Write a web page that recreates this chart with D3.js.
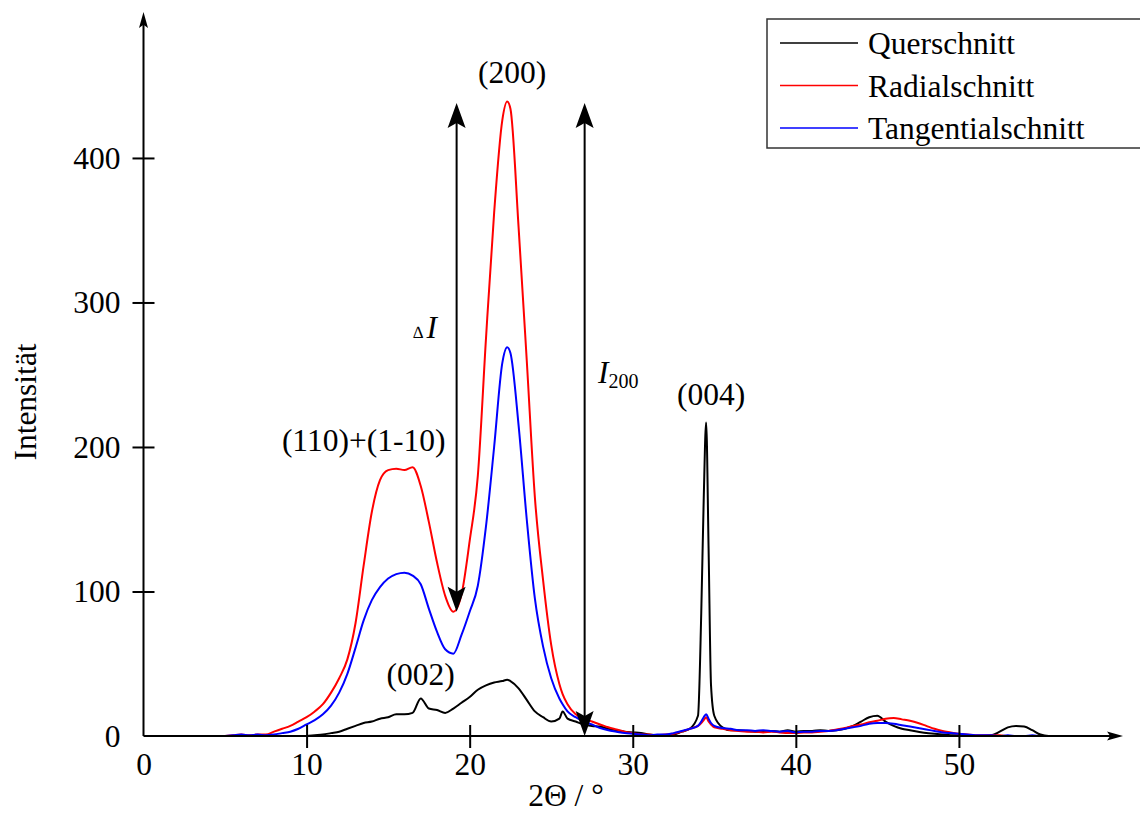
<!DOCTYPE html>
<html>
<head>
<meta charset="utf-8">
<script src="https://cdn.jsdelivr.net/npm/d3@7/dist/d3.min.js"></script>
<style>
  body { margin: 0; background: #fff; }
  svg { display: block; }
  text { font-family: "Liberation Serif", "Times New Roman", serif; fill: #000; }
</style>
</head>
<body>
<div id="chart-area"></div>
<script>
// 2Theta positions (deg) shared by all three scans
const twoTheta = [
  5, 5.5, 6, 6.5, 7, 7.5, 8, 8.5, 9, 9.5,
  10, 10.5, 11, 11.5, 12, 12.5, 13, 13.5, 14, 14.5,
  15, 15.5, 16, 16.5, 17, 17.5, 18, 18.5, 19, 19.5,
  20, 20.5, 21, 21.5, 22, 22.3, 22.5, 23, 23.5, 24,
  24.5, 25, 25.5, 25.7, 26, 26.5, 27, 27.5, 28, 28.5,
  29, 29.5, 30, 30.5, 31, 31.5, 32, 32.5, 33, 33.5,
  34, 34.2, 34.35, 34.5, 34.65, 34.8, 35, 35.5, 36, 36.5,
  37, 37.5, 38, 38.5, 39, 39.5, 40, 40.5, 41, 41.5,
  42, 42.5, 43, 43.5, 44, 44.5, 45, 45.5, 46, 46.5,
  47, 47.5, 48, 48.5, 49, 49.5, 50, 50.5, 51, 51.5,
  52, 52.5, 53, 53.5, 54, 54.5, 55, 55.5, 56, 56.5,
  57, 57.5, 58, 58.5, 59, 59.5
];

const querschnitt = [
  0, 0, 0.5, 0, 0, 0, 0, 0, 0, 0,
  0, 0.5, 1, 2, 3, 5, 7, 9, 10, 12,
  13, 15, 15, 16, 26, 19, 18, 16, 19, 23,
  27, 32, 35, 37, 38, 39, 38, 33, 25, 17,
  13, 10, 12, 17, 12, 10, 8, 7, 6.5, 5,
  4, 3, 2.5, 2, 1, 0.5, 0.5, 1, 3, 5,
  14, 85, 163, 217, 130, 35, 14, 6, 4, 4,
  3.5, 3, 3, 3.5, 3, 4, 3, 3.5, 3.5, 4,
  3.5, 4, 5, 7, 10, 13, 14, 10, 7, 5,
  4, 3, 2, 1.5, 1, 0.5, 0.5, 0, 0, 0,
  0.5, 3, 6, 7, 6.5, 4, 1, 0, 0, 0,
  0, 0, 0, 0, 0, 0
];

const radialschnitt = [
  0, 0.5, 1, 0.5, 1, 1, 3, 5, 7, 10,
  13, 17, 22, 30, 40, 53, 78, 118, 155, 177,
  184, 185, 184, 186, 173, 148, 120, 97, 86, 98,
  135, 180, 275, 362, 426, 439, 434, 352, 260, 165,
  108, 63, 36, 29, 22, 15, 12, 10, 8, 6,
  4.5, 3, 2, 1, 1, 0.5, 1, 1.5, 3, 5,
  7, 9, 11, 13, 10, 8, 6, 5, 4, 3.5,
  3, 3, 2.5, 3, 2.5, 2, 2, 2.5, 2.5, 3,
  3.5, 4.5, 5.5, 7, 8, 9.5, 10.5, 12, 12.5, 11.5,
  10.5, 9, 7, 5, 3.5, 2.5, 1.5, 1, 0.5, 0.5,
  0.5, 0.5, 0, 0, 0, 0, 0, 0, 0, 0,
  0, 0, 0, 0, 0, 0
];

const tangentialschnitt = [
  0, 0.5, 1, 0.5, 1, 0.5, 1, 2, 3, 5,
  8, 11, 15, 21, 30, 43, 61, 80, 94, 103,
  109, 112, 113, 111, 105, 88, 72, 60, 57, 70,
  86, 104, 145, 200, 258, 269, 265, 215, 150, 95,
  62, 40, 26, 22, 17, 13, 10, 8, 5.5, 4,
  3, 2, 1.5, 1, 0.5, 1, 1, 2, 3.5, 5,
  7, 10, 13, 15, 12, 9, 7, 5.5, 5, 4,
  4, 3.5, 4, 3.5, 3, 3.5, 2.5, 3, 3, 3.5,
  3.5, 4, 5, 6, 7, 8.5, 9, 9, 8.5, 7.5,
  6.5, 5.5, 4.5, 3.5, 2.5, 2, 1.5, 1, 0.5, 0.5,
  0.5, 0, 0.5, 0, 0, 0.5, 0, 0, 0, 0,
  0, 0, 0, 0, 0, 0
];

const seriesNames = ["Querschnitt", "Radialschnitt", "Tangentialschnitt"];
const seriesColors = ["#000000", "#ff0000", "#0000ff"];
const xTicks = [0, 10, 20, 30, 40, 50];
const yTicks = [0, 100, 200, 300, 400];

// reflex labels: [text, 2theta, intensity]
const peakLabels = [
  ["(200)", 22.6, 452],
  ["(110)+(1-10)", 13.5, 197],
  ["(004)", 34.8, 229],
  ["(002)", 17.0, 35]
];

// arrows: x position, bottom and top intensity
const deltaArrow = { x: 19.2, from: 86, to: 438 };
const i200Arrow = { x: 27.05, from: 0, to: 438 };

const width = 1140, height = 816;
const fs = 31.5;

const svg = d3.select("#chart-area")
  .append("svg")
  .attr("width", width)
  .attr("height", height);

const x = d3.scaleLinear().domain([0, 60]).range([143.5, 1122]);
const y = d3.scaleLinear().domain([0, 501]).range([736, 12]);

const data = seriesNames.map((name, i) => ({
  name: name,
  color: seriesColors[i],
  values: twoTheta.map((t, j) => [t, [querschnitt, radialschnitt, tangentialschnitt][i][j]])
}));

// arrow head, tip at (px,py), pointing in direction angle (deg)
function arrowHead(g, px, py, angle, len, wid) {
  g.append("path")
    .attr("d", `M0,0 L${-len},${-wid / 2} L${-len * 0.8},0 L${-len},${wid / 2} Z`)
    .attr("transform", `translate(${px},${py}) rotate(${angle})`)
    .attr("fill", "#000");
}

// curves
const line = d3.line()
  .x(d => x(d[0]))
  .y(d => y(d[1]))
  .curve(d3.curveMonotoneX);

svg.append("g")
  .selectAll("path")
  .data(data)
  .enter()
  .append("path")
  .attr("d", d => line(d.values))
  .attr("fill", "none")
  .attr("stroke", d => d.color)
  .attr("stroke-width", 2)
  .attr("stroke-linejoin", "round");

// axes
const xAxis = svg.append("g")
  .attr("transform", `translate(0,${y(0)})`)
  .call(d3.axisBottom(x).tickValues(xTicks).tickSize(0).tickPadding(39));
xAxis.select(".domain").remove();
xAxis.selectAll(".tick line").attr("y1", -11).attr("y2", 12).attr("stroke", "#000").attr("stroke-width", 2);
xAxis.selectAll(".tick text").attr("font-size", fs).attr("dy", 0);
xAxis.selectAll(".tick").filter(d => d === 0).select("line").remove();

const yAxis = svg.append("g")
  .attr("transform", `translate(${x(0)},0)`)
  .call(d3.axisLeft(y).tickValues(yTicks).tickSize(0).tickPadding(23));
yAxis.select(".domain").remove();
yAxis.selectAll(".tick line").attr("x1", -11).attr("x2", 11).attr("stroke", "#000").attr("stroke-width", 2);
yAxis.selectAll(".tick text").attr("font-size", fs);
yAxis.selectAll(".tick").filter(d => d === 0).select("line").remove();

const axes = svg.append("g");
axes.append("line")
  .attr("x1", x(0)).attr("x2", x(60) - 6)
  .attr("y1", y(0)).attr("y2", y(0))
  .attr("stroke", "#000").attr("stroke-width", 2);
arrowHead(axes, x(60) + 1, y(0), 0, 16, 9);
axes.append("line")
  .attr("x1", x(0)).attr("x2", x(0))
  .attr("y1", y(0)).attr("y2", y(501) + 6)
  .attr("stroke", "#000").attr("stroke-width", 2);
arrowHead(axes, x(0), y(501), -90, 16, 9);

svg.append("text")
  .attr("x", 566).attr("y", 806)
  .attr("text-anchor", "middle")
  .attr("font-size", fs)
  .text("2Θ / °");

svg.append("text")
  .attr("transform", "translate(36,402) rotate(-90)")
  .attr("text-anchor", "middle")
  .attr("font-size", fs)
  .text("Intensität");

// annotation arrows
const ann = svg.append("g");
[deltaArrow, i200Arrow].forEach(a => {
  ann.append("line")
    .attr("x1", x(a.x)).attr("x2", x(a.x))
    .attr("y1", y(a.from) - 12).attr("y2", y(a.to) + 12)
    .attr("stroke", "#000").attr("stroke-width", 2);
  arrowHead(ann, x(a.x), y(a.to), -90, 25, 18);
  arrowHead(ann, x(a.x), y(a.from), 90, 25, 18);
});

const dI = svg.append("text")
  .attr("x", 413).attr("y", 338);
dI.append("tspan").attr("font-size", 17).text("∆");
dI.append("tspan").attr("font-size", fs).attr("font-style", "italic").attr("dx", 3).text("I");

const i200 = svg.append("text")
  .attr("x", 598).attr("y", 383);
i200.append("tspan").attr("font-size", fs).attr("font-style", "italic").text("I");
i200.append("tspan").attr("font-size", 20).attr("dy", 5).text("200");

svg.append("g")
  .selectAll("text")
  .data(peakLabels)
  .enter()
  .append("text")
  .attr("x", d => x(d[1]))
  .attr("y", d => y(d[2]))
  .attr("text-anchor", "middle")
  .attr("font-size", fs)
  .text(d => d[0]);

// legend
const legend = svg.append("g");
legend.append("rect")
  .attr("x", 767).attr("y", 19)
  .attr("width", 400).attr("height", 129)
  .attr("fill", "#fff")
  .attr("stroke", "#333")
  .attr("stroke-width", 1.5);
const rows = legend.selectAll("g.row")
  .data(data)
  .enter()
  .append("g")
  .attr("class", "row")
  .attr("transform", (d, i) => `translate(0,${43 + i * 42.5})`);
rows.append("line")
  .attr("x1", 780).attr("x2", 858)
  .attr("stroke", d => d.color)
  .attr("stroke-width", 1.5);
rows.append("text")
  .attr("x", 868).attr("y", 11)
  .attr("font-size", fs)
  .text(d => d.name);
</script>
</body>
</html>
